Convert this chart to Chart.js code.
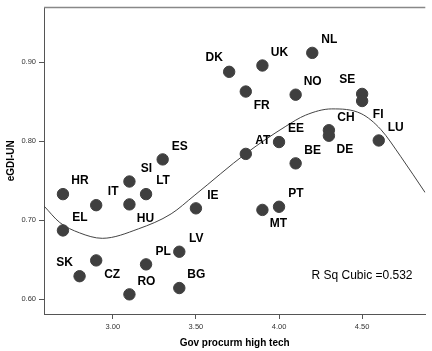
<!DOCTYPE html>
<html>
<head>
<meta charset="utf-8">
<script src="https://cdn.jsdelivr.net/npm/chart.js@4/dist/chart.umd.min.js"></script>
<style>
  body { margin: 0; background: #fff; }
  #wrap { width: 432px; height: 351px; }
</style>
</head>
<body>
<div id="wrap"><canvas id="myScatter" width="432" height="351"></canvas></div>
<script>
// country codes, x = gov procurement of high tech, y = eGDI-UN
const countries = ['DK','UK','NL','FR','NO','SE','FI','CH','DE','LU','EE','AT','BE','PT','MT','ES','SI','HR','IT','LT','HU','IE','EL','LV','PL','SK','CZ','RO','BG']
const procurement = [3.7,3.9,4.2,3.8,4.1,4.5,4.5,4.3,4.3,4.6,4.0,3.8,4.1,4.0,3.9,3.3,3.1,2.7,2.9,3.2,3.1,3.5,2.7,3.4,3.2,2.8,2.9,3.1,3.4]
const egdi = [0.888,0.896,0.912,0.863,0.859,0.860,0.851,0.814,0.807,0.801,0.799,0.784,0.772,0.717,0.713,0.777,0.749,0.733,0.719,0.733,0.720,0.715,0.687,0.660,0.644,0.629,0.649,0.606,0.614]

// cubic fit line
const fitX = [2.586,2.681,2.799,2.937,3.154,3.351,3.489,3.804,4.041,4.159,4.317,4.494,4.612,4.731,4.879]
const fitY = [0.718,0.697,0.684,0.677,0.689,0.708,0.731,0.785,0.819,0.833,0.841,0.835,0.815,0.781,0.735]

const xTicks = [3.0, 3.5, 4.0, 4.5]
const yTicks = [0.6, 0.7, 0.8, 0.9]
const rSqText = 'R Sq Cubic =0.532'

// where the label sits relative to its dot
const labelSide = { DK: 'ul', SE: 'ul', SK: 'ul', FR: 'lr', FI: 'lr', DE: 'lr', MT: 'lr', HU: 'lr', CZ: 'lr' }
const sideOffset = { ur: [17, -13], ul: [-15, -14], lr: [16, 14] }

const labelPlugin = {
  id: 'pointLabels',
  beforeDatasetsDraw(chart) {
    // top frame line
    const ctx = chart.ctx
    const a = chart.chartArea
    ctx.save()
    ctx.strokeStyle = '#888'
    ctx.lineWidth = 1.5
    ctx.beginPath()
    ctx.moveTo(a.left, a.top)
    ctx.lineTo(a.right, a.top)
    ctx.stroke()
    ctx.restore()
  },
  afterDatasetsDraw(chart) {
    const ctx = chart.ctx
    const xs = chart.scales.x
    const ys = chart.scales.y
    ctx.save()
    ctx.fillStyle = '#000'
    ctx.font = 'bold 12px "Liberation Sans", Arial, sans-serif'
    ctx.textAlign = 'center'
    ctx.textBaseline = 'middle'
    countries.forEach((c, i) => {
      const off = sideOffset[labelSide[c] || 'ur']
      ctx.fillText(c, xs.getPixelForValue(procurement[i]) + off[0], ys.getPixelForValue(egdi[i]) + off[1])
    })
    ctx.font = '12px "Liberation Sans", Arial, sans-serif'
    ctx.fillText(rSqText, 362, 276)
    ctx.restore()
  }
}

const tickFont = { family: '"Liberation Sans", Arial, sans-serif', size: 7.5 }
const titleFont = { family: '"Liberation Sans", Arial, sans-serif', size: 10, weight: 'bold' }

new Chart(document.getElementById('myScatter'), {
  type: 'scatter',
  data: {
    datasets: [{
      label: 'countries',
      data: procurement.map((x, i) => ({ x: x, y: egdi[i] })),
      backgroundColor: '#3f3f3f',
      borderColor: '#3f3f3f',
      pointRadius: 5.7,
      pointHoverRadius: 5.7,
      order: 0
    }, {
      label: 'cubic',
      type: 'line',
      data: fitX.map((x, i) => ({ x: x, y: fitY[i] })),
      borderColor: '#444',
      borderWidth: 1,
      pointRadius: 0,
      fill: false,
      cubicInterpolationMode: 'monotone',
      order: 1
    }]
  },
  options: {
    responsive: false,
    animation: false,
    layout: { padding: { top: 5, left: 0, right: 0, bottom: 0 } },
    plugins: { legend: { display: false }, tooltip: { enabled: false } },
    scales: {
      x: {
        type: 'linear',
        min: 2.586,
        max: 4.88,
        afterBuildTicks: (s) => { s.ticks = xTicks.map(v => ({ value: v })) },
        afterFit: (s) => { s.height = 37 },
        ticks: { font: tickFont, color: '#333', padding: 3, maxRotation: 0, callback: (v) => v.toFixed(2) },
        grid: { drawOnChartArea: false, tickLength: 5, color: '#555' },
        border: { color: '#555', width: 1 },
        title: { display: true, text: 'Gov procurm high tech', font: titleFont, color: '#000', padding: { top: 0, bottom: 2 } }
      },
      y: {
        min: 0.5811,
        max: 0.9695,
        afterBuildTicks: (s) => { s.ticks = yTicks.map(v => ({ value: v })) },
        afterFit: (s) => { s.width = 44 },
        ticks: { font: tickFont, color: '#333', padding: 3, callback: (v) => v.toFixed(2) },
        grid: { drawOnChartArea: false, tickLength: 5, color: '#555' },
        border: { color: '#555', width: 1 },
        title: { display: true, text: 'eGDI-UN', font: titleFont, color: '#000', padding: { top: 5, bottom: 0 } }
      }
    }
  },
  plugins: [labelPlugin]
})
</script>
</body>
</html>
